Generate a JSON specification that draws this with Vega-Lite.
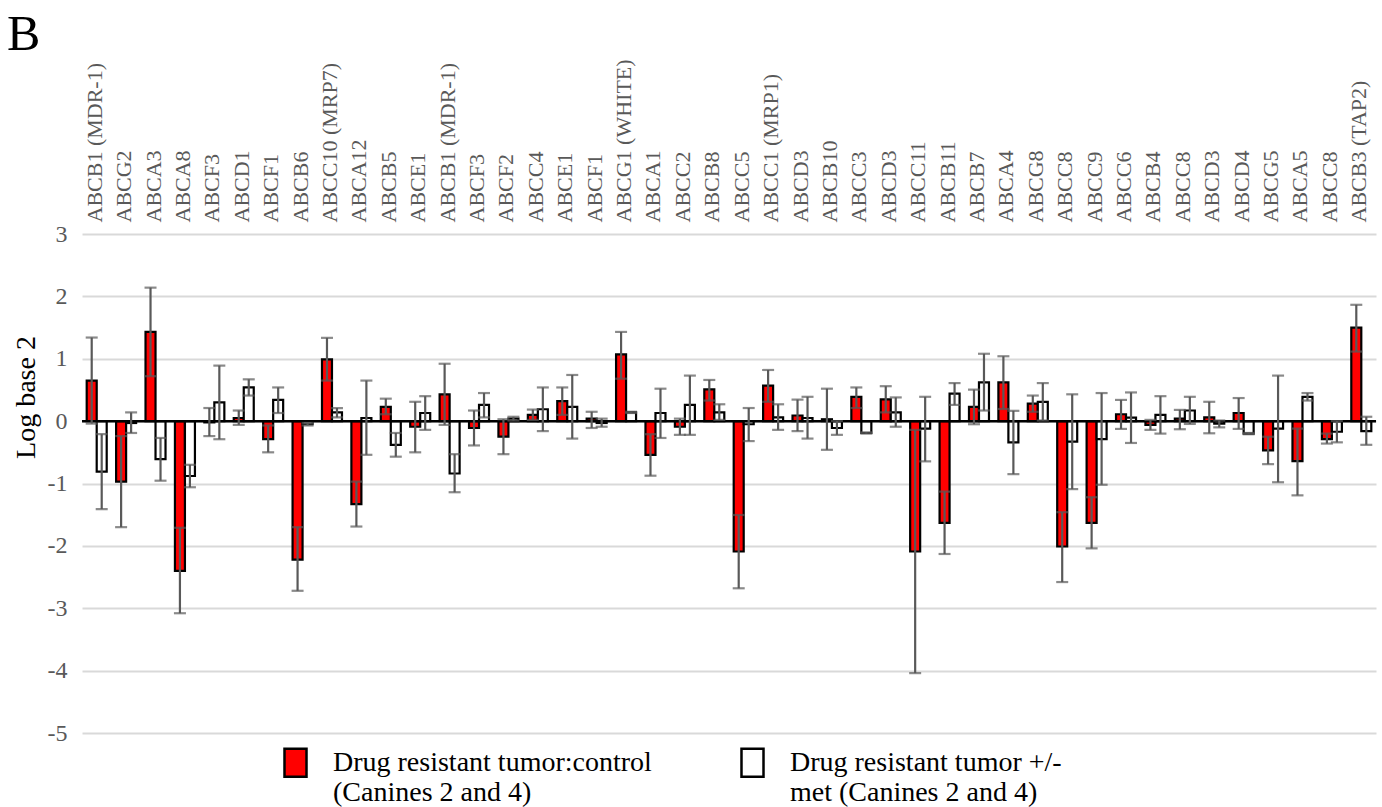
{
  "$schema": "https://vega.github.io/schema/vega-lite/v6.json",
  "width": 1294,
  "height": 499,
  "autosize": {"type": "none"},
  "padding": {"left": 82, "top": 234, "right": 6, "bottom": 74},
  "background": "white",
  "config": {"view": {"stroke": null}, "font": "Liberation Serif, DejaVu Serif, Times New Roman, serif"},
  "title": {"text": "B", "anchor": "start", "frame": "group", "font": "Liberation Serif, DejaVu Serif, Times New Roman, serif", "fontSize": 50, "fontWeight": "normal", "color": "black", "dx": -75, "offset": -1},
  "datasets": {
    "bars": [
      {"n": 1, "gene": "ABCB1 (MDR-1)", "series": "Drug resistant tumor:control\n(Canines 2 and 4)", "value": 0.65, "lo": -0.04, "hi": 1.34},
      {"n": 1, "gene": "ABCB1 (MDR-1)", "series": "Drug resistant tumor +/-\nmet (Canines 2 and 4)", "value": -0.81, "lo": -1.41, "hi": -0.21},
      {"n": 2, "gene": "ABCG2", "series": "Drug resistant tumor:control\n(Canines 2 and 4)", "value": -0.97, "lo": -1.70, "hi": -0.24},
      {"n": 2, "gene": "ABCG2", "series": "Drug resistant tumor +/-\nmet (Canines 2 and 4)", "value": -0.03, "lo": -0.19, "hi": 0.14},
      {"n": 3, "gene": "ABCA3", "series": "Drug resistant tumor:control\n(Canines 2 and 4)", "value": 1.43, "lo": 0.72, "hi": 2.14},
      {"n": 3, "gene": "ABCA3", "series": "Drug resistant tumor +/-\nmet (Canines 2 and 4)", "value": -0.61, "lo": -0.955, "hi": -0.27},
      {"n": 4, "gene": "ABCA8", "series": "Drug resistant tumor:control\n(Canines 2 and 4)", "value": -2.40, "lo": -3.08, "hi": -1.71},
      {"n": 4, "gene": "ABCA8", "series": "Drug resistant tumor +/-\nmet (Canines 2 and 4)", "value": -0.88, "lo": -1.06, "hi": -0.70},
      {"n": 5, "gene": "ABCF3", "series": "Drug resistant tumor:control\n(Canines 2 and 4)", "value": -0.02, "lo": -0.24, "hi": 0.21},
      {"n": 5, "gene": "ABCF3", "series": "Drug resistant tumor +/-\nmet (Canines 2 and 4)", "value": 0.30, "lo": -0.29, "hi": 0.89},
      {"n": 6, "gene": "ABCD1", "series": "Drug resistant tumor:control\n(Canines 2 and 4)", "value": 0.05, "lo": -0.06, "hi": 0.17},
      {"n": 6, "gene": "ABCD1", "series": "Drug resistant tumor +/-\nmet (Canines 2 and 4)", "value": 0.54, "lo": 0.41, "hi": 0.67},
      {"n": 7, "gene": "ABCF1", "series": "Drug resistant tumor:control\n(Canines 2 and 4)", "value": -0.29, "lo": -0.50, "hi": -0.07},
      {"n": 7, "gene": "ABCF1", "series": "Drug resistant tumor +/-\nmet (Canines 2 and 4)", "value": 0.34, "lo": 0.13, "hi": 0.54},
      {"n": 8, "gene": "ABCB6", "series": "Drug resistant tumor:control\n(Canines 2 and 4)", "value": -2.22, "lo": -2.72, "hi": -1.70},
      {"n": 8, "gene": "ABCB6", "series": "Drug resistant tumor +/-\nmet (Canines 2 and 4)", "value": -0.05, "lo": -0.07, "hi": -0.03},
      {"n": 9, "gene": "ABCC10 (MRP7)", "series": "Drug resistant tumor:control\n(Canines 2 and 4)", "value": 0.99, "lo": 0.65, "hi": 1.335},
      {"n": 9, "gene": "ABCC10 (MRP7)", "series": "Drug resistant tumor +/-\nmet (Canines 2 and 4)", "value": 0.14, "lo": 0.06, "hi": 0.21},
      {"n": 10, "gene": "ABCA12", "series": "Drug resistant tumor:control\n(Canines 2 and 4)", "value": -1.33, "lo": -1.69, "hi": -0.97},
      {"n": 10, "gene": "ABCA12", "series": "Drug resistant tumor +/-\nmet (Canines 2 and 4)", "value": 0.05, "lo": -0.54, "hi": 0.65},
      {"n": 11, "gene": "ABCB5", "series": "Drug resistant tumor:control\n(Canines 2 and 4)", "value": 0.23, "lo": 0.11, "hi": 0.36},
      {"n": 11, "gene": "ABCB5", "series": "Drug resistant tumor +/-\nmet (Canines 2 and 4)", "value": -0.38, "lo": -0.57, "hi": -0.19},
      {"n": 12, "gene": "ABCE1", "series": "Drug resistant tumor:control\n(Canines 2 and 4)", "value": -0.09, "lo": -0.50, "hi": 0.31},
      {"n": 12, "gene": "ABCE1", "series": "Drug resistant tumor +/-\nmet (Canines 2 and 4)", "value": 0.13, "lo": -0.14, "hi": 0.40},
      {"n": 13, "gene": "ABCB1 (MDR-1)", "series": "Drug resistant tumor:control\n(Canines 2 and 4)", "value": 0.43, "lo": -0.06, "hi": 0.92},
      {"n": 13, "gene": "ABCB1 (MDR-1)", "series": "Drug resistant tumor +/-\nmet (Canines 2 and 4)", "value": -0.84, "lo": -1.14, "hi": -0.53},
      {"n": 14, "gene": "ABCF3", "series": "Drug resistant tumor:control\n(Canines 2 and 4)", "value": -0.11, "lo": -0.39, "hi": 0.17},
      {"n": 14, "gene": "ABCF3", "series": "Drug resistant tumor +/-\nmet (Canines 2 and 4)", "value": 0.26, "lo": 0.06, "hi": 0.45},
      {"n": 15, "gene": "ABCF2", "series": "Drug resistant tumor:control\n(Canines 2 and 4)", "value": -0.25, "lo": -0.53, "hi": 0.03},
      {"n": 15, "gene": "ABCF2", "series": "Drug resistant tumor +/-\nmet (Canines 2 and 4)", "value": 0.04, "lo": 0.01, "hi": 0.07},
      {"n": 16, "gene": "ABCC4", "series": "Drug resistant tumor:control\n(Canines 2 and 4)", "value": 0.10, "lo": 0.02, "hi": 0.185},
      {"n": 16, "gene": "ABCC4", "series": "Drug resistant tumor +/-\nmet (Canines 2 and 4)", "value": 0.19, "lo": -0.16, "hi": 0.54},
      {"n": 17, "gene": "ABCE1", "series": "Drug resistant tumor:control\n(Canines 2 and 4)", "value": 0.32, "lo": 0.10, "hi": 0.54},
      {"n": 17, "gene": "ABCE1", "series": "Drug resistant tumor +/-\nmet (Canines 2 and 4)", "value": 0.23, "lo": -0.28, "hi": 0.74},
      {"n": 18, "gene": "ABCF1", "series": "Drug resistant tumor:control\n(Canines 2 and 4)", "value": 0.04, "lo": -0.11, "hi": 0.15},
      {"n": 18, "gene": "ABCF1", "series": "Drug resistant tumor +/-\nmet (Canines 2 and 4)", "value": -0.03, "lo": -0.09, "hi": 0.04},
      {"n": 19, "gene": "ABCG1 (WHITE)", "series": "Drug resistant tumor:control\n(Canines 2 and 4)", "value": 1.07, "lo": 0.68, "hi": 1.43},
      {"n": 19, "gene": "ABCG1 (WHITE)", "series": "Drug resistant tumor +/-\nmet (Canines 2 and 4)", "value": 0.14, "lo": 0.13, "hi": 0.15},
      {"n": 20, "gene": "ABCA1", "series": "Drug resistant tumor:control\n(Canines 2 and 4)", "value": -0.54, "lo": -0.875, "hi": -0.21},
      {"n": 20, "gene": "ABCA1", "series": "Drug resistant tumor +/-\nmet (Canines 2 and 4)", "value": 0.13, "lo": -0.27, "hi": 0.52},
      {"n": 21, "gene": "ABCC2", "series": "Drug resistant tumor:control\n(Canines 2 and 4)", "value": -0.09, "lo": -0.22, "hi": 0.04},
      {"n": 21, "gene": "ABCC2", "series": "Drug resistant tumor +/-\nmet (Canines 2 and 4)", "value": 0.26, "lo": -0.22, "hi": 0.73},
      {"n": 22, "gene": "ABCB8", "series": "Drug resistant tumor:control\n(Canines 2 and 4)", "value": 0.51, "lo": 0.33, "hi": 0.66},
      {"n": 22, "gene": "ABCB8", "series": "Drug resistant tumor +/-\nmet (Canines 2 and 4)", "value": 0.14, "lo": 0.02, "hi": 0.27},
      {"n": 23, "gene": "ABCC5", "series": "Drug resistant tumor:control\n(Canines 2 and 4)", "value": -2.09, "lo": -2.68, "hi": -1.505},
      {"n": 23, "gene": "ABCC5", "series": "Drug resistant tumor +/-\nmet (Canines 2 and 4)", "value": -0.05, "lo": -0.32, "hi": 0.21},
      {"n": 24, "gene": "ABCC1 (MRP1)", "series": "Drug resistant tumor:control\n(Canines 2 and 4)", "value": 0.57, "lo": 0.31, "hi": 0.82},
      {"n": 24, "gene": "ABCC1 (MRP1)", "series": "Drug resistant tumor +/-\nmet (Canines 2 and 4)", "value": 0.06, "lo": -0.14, "hi": 0.27},
      {"n": 25, "gene": "ABCD3", "series": "Drug resistant tumor:control\n(Canines 2 and 4)", "value": 0.09, "lo": -0.16, "hi": 0.345},
      {"n": 25, "gene": "ABCD3", "series": "Drug resistant tumor +/-\nmet (Canines 2 and 4)", "value": 0.05, "lo": -0.28, "hi": 0.39},
      {"n": 26, "gene": "ABCB10", "series": "Drug resistant tumor:control\n(Canines 2 and 4)", "value": 0.03, "lo": -0.46, "hi": 0.52},
      {"n": 26, "gene": "ABCB10", "series": "Drug resistant tumor +/-\nmet (Canines 2 and 4)", "value": -0.11, "lo": -0.22, "hi": 0.00},
      {"n": 27, "gene": "ABCC3", "series": "Drug resistant tumor:control\n(Canines 2 and 4)", "value": 0.39, "lo": 0.21, "hi": 0.54},
      {"n": 27, "gene": "ABCC3", "series": "Drug resistant tumor +/-\nmet (Canines 2 and 4)", "value": -0.19, "lo": -0.20, "hi": -0.18},
      {"n": 28, "gene": "ABCD3", "series": "Drug resistant tumor:control\n(Canines 2 and 4)", "value": 0.35, "lo": 0.14, "hi": 0.56},
      {"n": 28, "gene": "ABCD3", "series": "Drug resistant tumor +/-\nmet (Canines 2 and 4)", "value": 0.14, "lo": -0.09, "hi": 0.38},
      {"n": 29, "gene": "ABCC11", "series": "Drug resistant tumor:control\n(Canines 2 and 4)", "value": -2.09, "lo": -4.04, "hi": -0.14},
      {"n": 29, "gene": "ABCC11", "series": "Drug resistant tumor +/-\nmet (Canines 2 and 4)", "value": -0.12, "lo": -0.645, "hi": 0.39},
      {"n": 30, "gene": "ABCB11", "series": "Drug resistant tumor:control\n(Canines 2 and 4)", "value": -1.63, "lo": -2.13, "hi": -1.13},
      {"n": 30, "gene": "ABCB11", "series": "Drug resistant tumor +/-\nmet (Canines 2 and 4)", "value": 0.44, "lo": 0.26, "hi": 0.61},
      {"n": 31, "gene": "ABCB7", "series": "Drug resistant tumor:control\n(Canines 2 and 4)", "value": 0.23, "lo": -0.05, "hi": 0.505},
      {"n": 31, "gene": "ABCB7", "series": "Drug resistant tumor +/-\nmet (Canines 2 and 4)", "value": 0.62, "lo": 0.17, "hi": 1.08},
      {"n": 32, "gene": "ABCA4", "series": "Drug resistant tumor:control\n(Canines 2 and 4)", "value": 0.62, "lo": 0.195, "hi": 1.04},
      {"n": 32, "gene": "ABCA4", "series": "Drug resistant tumor +/-\nmet (Canines 2 and 4)", "value": -0.34, "lo": -0.85, "hi": 0.165},
      {"n": 33, "gene": "ABCG8", "series": "Drug resistant tumor:control\n(Canines 2 and 4)", "value": 0.28, "lo": 0.15, "hi": 0.41},
      {"n": 33, "gene": "ABCG8", "series": "Drug resistant tumor +/-\nmet (Canines 2 and 4)", "value": 0.31, "lo": 0.01, "hi": 0.61},
      {"n": 34, "gene": "ABCC8", "series": "Drug resistant tumor:control\n(Canines 2 and 4)", "value": -2.01, "lo": -2.58, "hi": -1.46},
      {"n": 34, "gene": "ABCC8", "series": "Drug resistant tumor +/-\nmet (Canines 2 and 4)", "value": -0.33, "lo": -1.09, "hi": 0.43},
      {"n": 35, "gene": "ABCC9", "series": "Drug resistant tumor:control\n(Canines 2 and 4)", "value": -1.63, "lo": -2.04, "hi": -1.22},
      {"n": 35, "gene": "ABCC9", "series": "Drug resistant tumor +/-\nmet (Canines 2 and 4)", "value": -0.29, "lo": -1.02, "hi": 0.45},
      {"n": 36, "gene": "ABCC6", "series": "Drug resistant tumor:control\n(Canines 2 and 4)", "value": 0.11, "lo": -0.125, "hi": 0.34},
      {"n": 36, "gene": "ABCC6", "series": "Drug resistant tumor +/-\nmet (Canines 2 and 4)", "value": 0.055, "lo": -0.35, "hi": 0.46},
      {"n": 37, "gene": "ABCB4", "series": "Drug resistant tumor:control\n(Canines 2 and 4)", "value": -0.06, "lo": -0.14, "hi": 0.02},
      {"n": 37, "gene": "ABCB4", "series": "Drug resistant tumor +/-\nmet (Canines 2 and 4)", "value": 0.10, "lo": -0.20, "hi": 0.40},
      {"n": 38, "gene": "ABCC8", "series": "Drug resistant tumor:control\n(Canines 2 and 4)", "value": 0.04, "lo": -0.13, "hi": 0.18},
      {"n": 38, "gene": "ABCC8", "series": "Drug resistant tumor +/-\nmet (Canines 2 and 4)", "value": 0.17, "lo": -0.045, "hi": 0.39},
      {"n": 39, "gene": "ABCD3", "series": "Drug resistant tumor:control\n(Canines 2 and 4)", "value": 0.06, "lo": -0.195, "hi": 0.31},
      {"n": 39, "gene": "ABCD3", "series": "Drug resistant tumor +/-\nmet (Canines 2 and 4)", "value": -0.04, "lo": -0.10, "hi": 0.01},
      {"n": 40, "gene": "ABCD4", "series": "Drug resistant tumor:control\n(Canines 2 and 4)", "value": 0.13, "lo": -0.125, "hi": 0.37},
      {"n": 40, "gene": "ABCD4", "series": "Drug resistant tumor +/-\nmet (Canines 2 and 4)", "value": -0.20, "lo": -0.21, "hi": -0.19},
      {"n": 41, "gene": "ABCG5", "series": "Drug resistant tumor:control\n(Canines 2 and 4)", "value": -0.47, "lo": -0.69, "hi": -0.25},
      {"n": 41, "gene": "ABCG5", "series": "Drug resistant tumor +/-\nmet (Canines 2 and 4)", "value": -0.12, "lo": -0.98, "hi": 0.73},
      {"n": 42, "gene": "ABCA5", "series": "Drug resistant tumor:control\n(Canines 2 and 4)", "value": -0.64, "lo": -1.19, "hi": -0.12},
      {"n": 42, "gene": "ABCA5", "series": "Drug resistant tumor +/-\nmet (Canines 2 and 4)", "value": 0.39, "lo": 0.33, "hi": 0.45},
      {"n": 43, "gene": "ABCC8", "series": "Drug resistant tumor:control\n(Canines 2 and 4)", "value": -0.29, "lo": -0.36, "hi": -0.20},
      {"n": 43, "gene": "ABCC8", "series": "Drug resistant tumor +/-\nmet (Canines 2 and 4)", "value": -0.17, "lo": -0.34, "hi": 0.00},
      {"n": 44, "gene": "ABCB3 (TAP2)", "series": "Drug resistant tumor:control\n(Canines 2 and 4)", "value": 1.50, "lo": 1.115, "hi": 1.865},
      {"n": 44, "gene": "ABCB3 (TAP2)", "series": "Drug resistant tumor +/-\nmet (Canines 2 and 4)", "value": -0.16, "lo": -0.38, "hi": 0.07}
    ],
    "zero": [{"level": 0}]
  },
  "layer": [
    {
      "data": {"name": "bars"},
      "mark": {"type": "bar", "stroke": "black", "strokeWidth": 2.2},
      "encoding": {
        "x": {
          "field": "n", "type": "ordinal",
          "scale": {"paddingInner": 0.32, "paddingOuter": 0.16},
          "axis": {
            "orient": "top", "title": null, "labelAngle": -90, "labelAlign": "left", "labelBaseline": "middle",
            "labelPadding": 12, "labelFont": "Liberation Serif, DejaVu Serif, Times New Roman, serif", "labelFontSize": 22, "labelColor": "#595959",
            "labelLimit": 400, "labelOverlap": false, "ticks": false, "domain": false, "grid": false, "labelOffset": -2,
            "labelExpr": "data('bars')[2*datum.value-2].gene"
          }
        },
        "xOffset": {
          "field": "series", "type": "nominal",
          "sort": ["Drug resistant tumor:control\n(Canines 2 and 4)", "Drug resistant tumor +/-\nmet (Canines 2 and 4)"],
          "scale": {"paddingInner": 0, "paddingOuter": 0}
        },
        "y": {
          "field": "value", "type": "quantitative",
          "scale": {"domain": [-5, 3], "nice": false},
          "axis": {
            "values": [-5, -4, -3, -2, -1, 0, 1, 2, 3],
            "labelExpr": "'' + datum.value",
            "title": "Log base 2", "titleFont": "Liberation Serif, DejaVu Serif, Times New Roman, serif", "titleFontSize": 28, "titleFontWeight": "normal",
            "titleColor": "black", "titleX": -48, "titleY": 163, "titleAngle": -90, "titleBaseline": "alphabetic", "titleAlign": "center",
            "labelFont": "Liberation Serif, DejaVu Serif, Times New Roman, serif", "labelFontSize": 24, "labelColor": "#595959", "labelPadding": 15,
            "ticks": false, "domain": false, "grid": true, "gridColor": "#d9d9d9", "gridWidth": 2
          }
        },
        "fill": {
          "field": "series", "type": "nominal",
          "sort": ["Drug resistant tumor:control\n(Canines 2 and 4)", "Drug resistant tumor +/-\nmet (Canines 2 and 4)"],
          "scale": {"range": ["#ff0000", "#ffffff"]},
          "legend": {
            "orient": "none", "legendX": 198, "legendY": 513, "direction": "horizontal", "columns": 2, "columnPadding": 84,
            "title": null, "padding": 0, "labelFont": "Liberation Serif, DejaVu Serif, Times New Roman, serif", "labelFontSize": 28, "labelColor": "black",
            "labelOffset": 22, "labelLimit": 600, "symbolType": "M-0.786,-1H0.786V1H-0.786Z", "symbolSize": 784,
            "symbolStrokeColor": "black", "symbolStrokeWidth": 2.5, "symbolOpacity": 1,
            "labelExpr": "split(datum.label, '\\n')"
          }
        }
      }
    },
    {
      "data": {"name": "zero"},
      "mark": {"type": "rule", "color": "black", "strokeWidth": 2.5},
      "encoding": {"y": {"field": "level", "type": "quantitative"}}
    },
    {
      "data": {"name": "bars"},
      "mark": {"type": "rule", "color": "#595959", "strokeWidth": 2.2},
      "encoding": {
        "x": {"field": "n", "type": "ordinal"},
        "xOffset": {"field": "series", "type": "nominal", "sort": ["Drug resistant tumor:control\n(Canines 2 and 4)", "Drug resistant tumor +/-\nmet (Canines 2 and 4)"]},
        "y": {"field": "lo", "type": "quantitative"},
        "y2": {"field": "hi"}
      }
    },
    {
      "data": {"name": "bars"},
      "mark": {"type": "tick", "color": "#595959", "thickness": 2.2, "size": 12},
      "encoding": {
        "x": {"field": "n", "type": "ordinal"},
        "xOffset": {"field": "series", "type": "nominal", "sort": ["Drug resistant tumor:control\n(Canines 2 and 4)", "Drug resistant tumor +/-\nmet (Canines 2 and 4)"]},
        "y": {"field": "lo", "type": "quantitative"}
      }
    },
    {
      "data": {"name": "bars"},
      "mark": {"type": "tick", "color": "#595959", "thickness": 2.2, "size": 12},
      "encoding": {
        "x": {"field": "n", "type": "ordinal"},
        "xOffset": {"field": "series", "type": "nominal", "sort": ["Drug resistant tumor:control\n(Canines 2 and 4)", "Drug resistant tumor +/-\nmet (Canines 2 and 4)"]},
        "y": {"field": "hi", "type": "quantitative"}
      }
    }
  ]
}
